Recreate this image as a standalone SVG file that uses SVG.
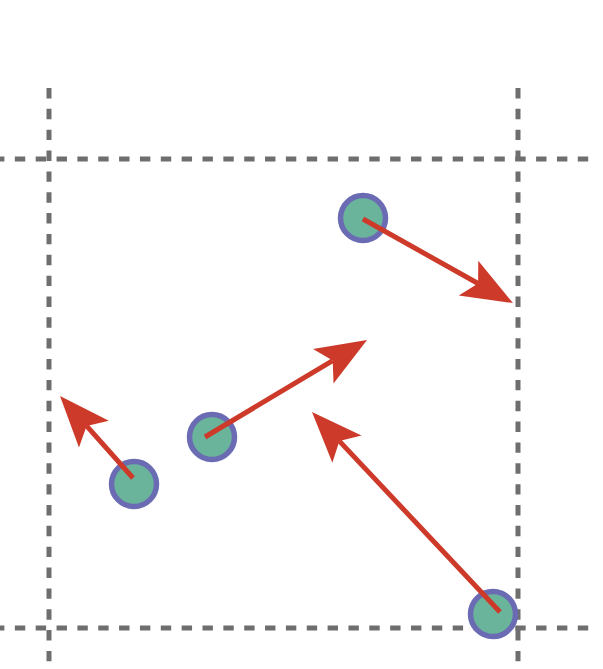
<svg xmlns="http://www.w3.org/2000/svg" width="603" height="669" viewBox="0 0 603 669">
<style>
.grid{stroke:#6e6e6e;stroke-width:5;stroke-dasharray:10.4 10.45;fill:none}
.node{fill:#6ab49c;stroke:#6b6bb4;stroke-width:5.5}
.arrow{stroke:#cd3a2a;stroke-width:5;fill:none;marker-end:url(#head)}
</style>
<defs>
<marker id="head" markerUnits="userSpaceOnUse" viewBox="-15 -25 60 50" markerWidth="60" markerHeight="50" refX="0" refY="0" orient="auto" overflow="visible">
<path d="M40,0 L-11,-20 L0,0 L-11,20 Z" fill="#cd3a2a"/>
</marker>
</defs>
<rect width="603" height="669" fill="#ffffff"/>
<g id="grid">
<line class="grid" x1="-6" y1="159" x2="598" y2="159"/>
<line class="grid" x1="-6" y1="628" x2="598" y2="628"/>
<line class="grid" x1="49" y1="88" x2="49" y2="669"/>
<line class="grid" x1="518" y1="88" x2="518" y2="669"/>
</g>
<g id="node1"><circle class="node" cx="363" cy="218" r="22.5"/></g>
<g id="node2"><circle class="node" cx="212" cy="437" r="22.5"/></g>
<g id="node3"><circle class="node" cx="134" cy="484" r="22.5"/></g>
<g id="node4"><circle class="node" cx="493" cy="614" r="22.5"/></g>
<g id="connectors">
<line class="arrow" x1="363" y1="219" x2="478.1" y2="283.5"/>
<line class="arrow" x1="205" y1="437" x2="332.7" y2="360.6"/>
<line class="arrow" x1="133" y1="478" x2="86.6" y2="425.9"/>
<line class="arrow" x1="500" y1="612" x2="339.4" y2="441.1"/>
</g>
</svg>
